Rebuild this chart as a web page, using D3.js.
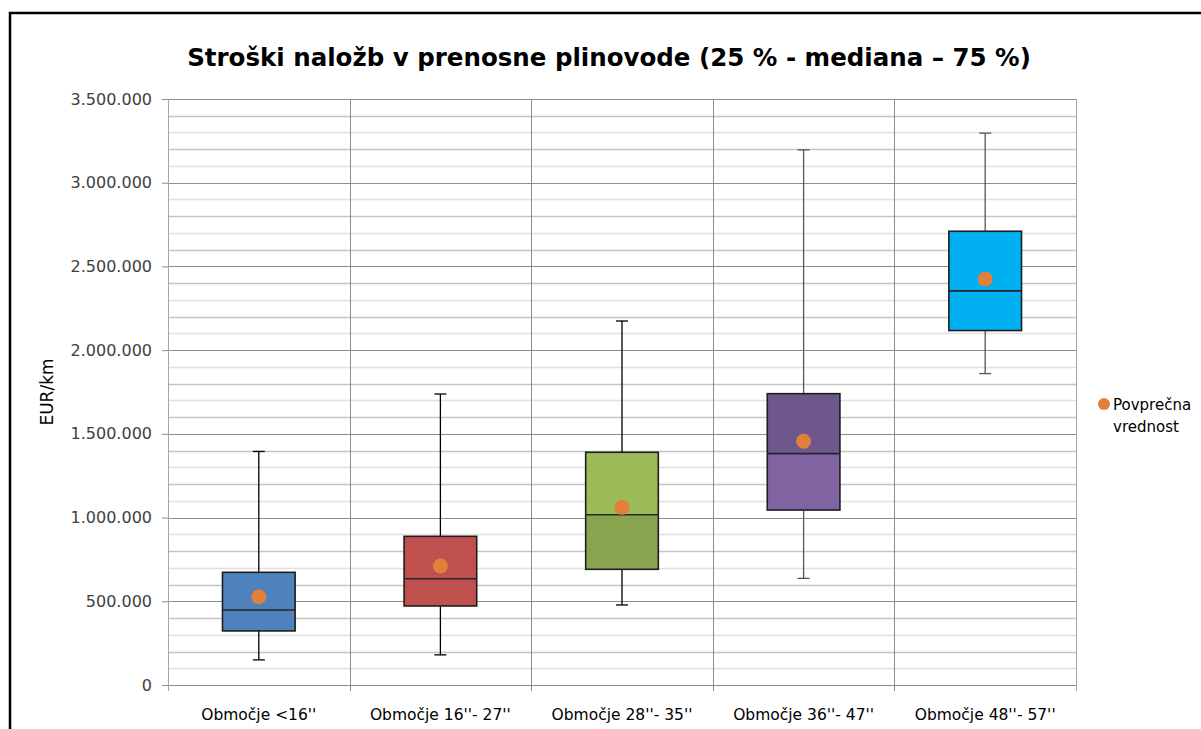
<!DOCTYPE html>
<html>
<head>
<meta charset="utf-8">
<script src="https://cdn.jsdelivr.net/npm/d3@7"></script>
<style>
  body { margin: 0; background: #fff; }
  svg { display: block; }
</style>
</head>
<body>
<div id="chart"></div>
<script>
// data (EUR/km)
const categories = ["Območje <16''", "Območje 16''- 27''", "Območje 28''- 35''", "Območje 36''- 47''", "Območje 48''- 57''"]
const minValues = [150000, 180000, 478000, 637000, 1860000]
const q1Values = [323000, 472000, 691000, 1045000, 2117000]
const medianValues = [448000, 635000, 1017000, 1382000, 2354000]
const q3Values = [673000, 888000, 1390000, 1740000, 2710000]
const maxValues = [1395000, 1738000, 2174000, 3196000, 3296000]
const meanValues = [527000, 711000, 1061000, 1456000, 2425000]
const lowerColors = ['#4f81bd', '#c0504d', '#88a44e', '#8064a2', '#00b0f0']
const upperColors = ['#4f81bd', '#c0504d', '#9bbb59', '#6e578c', '#00b0f0']
const whiskerColors = ['#000', '#000', '#000', '#555', '#555']
const yTicks = [0, 500000, 1000000, 1500000, 2000000, 2500000, 3000000, 3500000]

const W = 1201, H = 729
const margin = { left: 168, right: 125, top: 99, bottom: 44 }
const font = 'DejaVu Sans, Verdana, sans-serif'

const svg = d3.select('#chart').append('svg')
  .attr('width', W)
  .attr('height', H)

// chart area border
svg.append('rect')
  .attr('x', 10).attr('y', 13)
  .attr('width', W + 20).attr('height', H)
  .attr('fill', 'none')
  .attr('stroke', '#000')
  .attr('stroke-width', 2.5)

const x = d3.scaleBand()
  .domain(categories)
  .range([margin.left, W - margin.right])

const y = d3.scaleLinear()
  .domain([0, 3500000])
  .range([H - margin.bottom, margin.top])

const fmt = v => d3.format(',')(v).replace(/,/g, '.')

// horizontal gridlines every 100.000
const grid = svg.append('g').attr('class', 'grid')
d3.range(0, 3500001, 100000).forEach(v => {
  const major = v % 500000 === 0
  const even = (v / 100000) % 2 === 0
  grid.append('line')
    .attr('x1', margin.left).attr('x2', W - margin.right)
    .attr('y1', Math.round(y(v)) + 0.5).attr('y2', Math.round(y(v)) + 0.5)
    .attr('stroke', major ? '#8c8c8c' : (even ? '#c4c4c4' : '#e0e0e0'))
    .attr('stroke-width', major ? 1.2 : 1.4)
})

// vertical gridlines between categories
const bounds = categories.map(c => x(c)).concat([W - margin.right])
grid.selectAll('line.v')
  .data(bounds)
  .enter()
  .append('line')
  .attr('class', 'v')
  .attr('x1', d => Math.round(d) + 0.5).attr('x2', d => Math.round(d) + 0.5)
  .attr('y1', margin.top).attr('y2', H - margin.bottom + 6)
  .attr('stroke', (d, i) => i === 0 || i === bounds.length - 1 ? '#a6a6a6' : '#8c8c8c')
  .attr('stroke-width', 1)

// y axis
const yAxis = svg.append('g')
  .attr('transform', `translate(${margin.left},0)`)
  .call(d3.axisLeft(y).tickValues(yTicks).tickFormat(fmt).tickSizeOuter(0).tickSize(6).tickPadding(10))
yAxis.select('.domain').remove()
yAxis.selectAll('.tick line').attr('stroke', '#8c8c8c')
yAxis.selectAll('.tick text')
  .attr('font-family', font)
  .attr('font-size', 16)
  .attr('fill', '#404040')

// x axis labels
svg.append('g')
  .selectAll('text')
  .data(categories)
  .enter()
  .append('text')
  .attr('x', d => x(d) + x.bandwidth() / 2)
  .attr('y', 720)
  .attr('text-anchor', 'middle')
  .attr('font-family', font)
  .attr('font-size', 15.5)
  .attr('fill', '#000')
  .text(d => d)

const boxW = x.bandwidth() * 0.4
const data = categories.map((c, i) => ({
  cat: c,
  min: minValues[i],
  q1: q1Values[i],
  med: medianValues[i],
  q3: q3Values[i],
  max: maxValues[i],
  mean: meanValues[i],
  i
}))

const boxes = svg.append('g').attr('class', 'boxes')
  .selectAll('g')
  .data(data)
  .enter()
  .append('g')
  .attr('transform', d => `translate(${x(d.cat) + x.bandwidth() / 2},0)`)

// whiskers
boxes.append('line')
  .attr('x1', 0).attr('x2', 0)
  .attr('y1', d => y(d.max)).attr('y2', d => y(d.min))
  .attr('stroke', d => whiskerColors[d.i])
  .attr('stroke-width', 1.3)
boxes.selectAll('line.cap')
  .data(d => [[d.max, d.i], [d.min, d.i]])
  .enter()
  .append('line')
  .attr('class', 'cap')
  .attr('x1', -6).attr('x2', 6)
  .attr('y1', d => y(d[0])).attr('y2', d => y(d[0]))
  .attr('stroke', d => whiskerColors[d[1]])
  .attr('stroke-width', 1.3)

// lower and upper box halves
boxes.append('rect')
  .attr('x', -boxW / 2).attr('width', boxW)
  .attr('y', d => y(d.med)).attr('height', d => y(d.q1) - y(d.med))
  .attr('fill', d => lowerColors[d.i])
boxes.append('rect')
  .attr('x', -boxW / 2).attr('width', boxW)
  .attr('y', d => y(d.q3)).attr('height', d => y(d.med) - y(d.q3))
  .attr('fill', d => upperColors[d.i])
boxes.append('rect')
  .attr('x', -boxW / 2).attr('width', boxW)
  .attr('y', d => y(d.q3)).attr('height', d => y(d.q1) - y(d.q3))
  .attr('fill', 'none')
  .attr('stroke', '#1e1e1e')
  .attr('stroke-width', 1.6)
boxes.append('line')
  .attr('x1', -boxW / 2).attr('x2', boxW / 2)
  .attr('y1', d => y(d.med)).attr('y2', d => y(d.med))
  .attr('stroke', '#262626')
  .attr('stroke-width', 1.6)

// mean markers
boxes.append('circle')
  .attr('cx', 0)
  .attr('cy', d => y(d.mean))
  .attr('r', 7.5)
  .attr('fill', '#e0803b')

// y axis title
svg.append('text')
  .attr('transform', 'translate(53,392) rotate(-90)')
  .attr('text-anchor', 'middle')
  .attr('font-family', font)
  .attr('font-size', 17)
  .attr('fill', '#000')
  .text('EUR/km')

// title
svg.append('text')
  .attr('x', 609).attr('y', 66)
  .attr('text-anchor', 'middle')
  .attr('font-family', font)
  .attr('font-weight', 'bold')
  .attr('font-size', 24.5)
  .attr('fill', '#000')
  .text('Stroški naložb v prenosne plinovode (25 % - mediana – 75 %)')

// legend
const legend = svg.append('g').attr('transform', 'translate(1104,404)')
legend.append('circle').attr('r', 6).attr('fill', '#e0803b')
legend.append('text')
  .attr('x', 9).attr('y', 6)
  .attr('font-family', font)
  .attr('font-size', 15)
  .attr('fill', '#000')
  .text('Povprečna')
legend.append('text')
  .attr('x', 9).attr('y', 28)
  .attr('font-family', font)
  .attr('font-size', 15)
  .attr('fill', '#000')
  .text('vrednost')
</script>
</body>
</html>
